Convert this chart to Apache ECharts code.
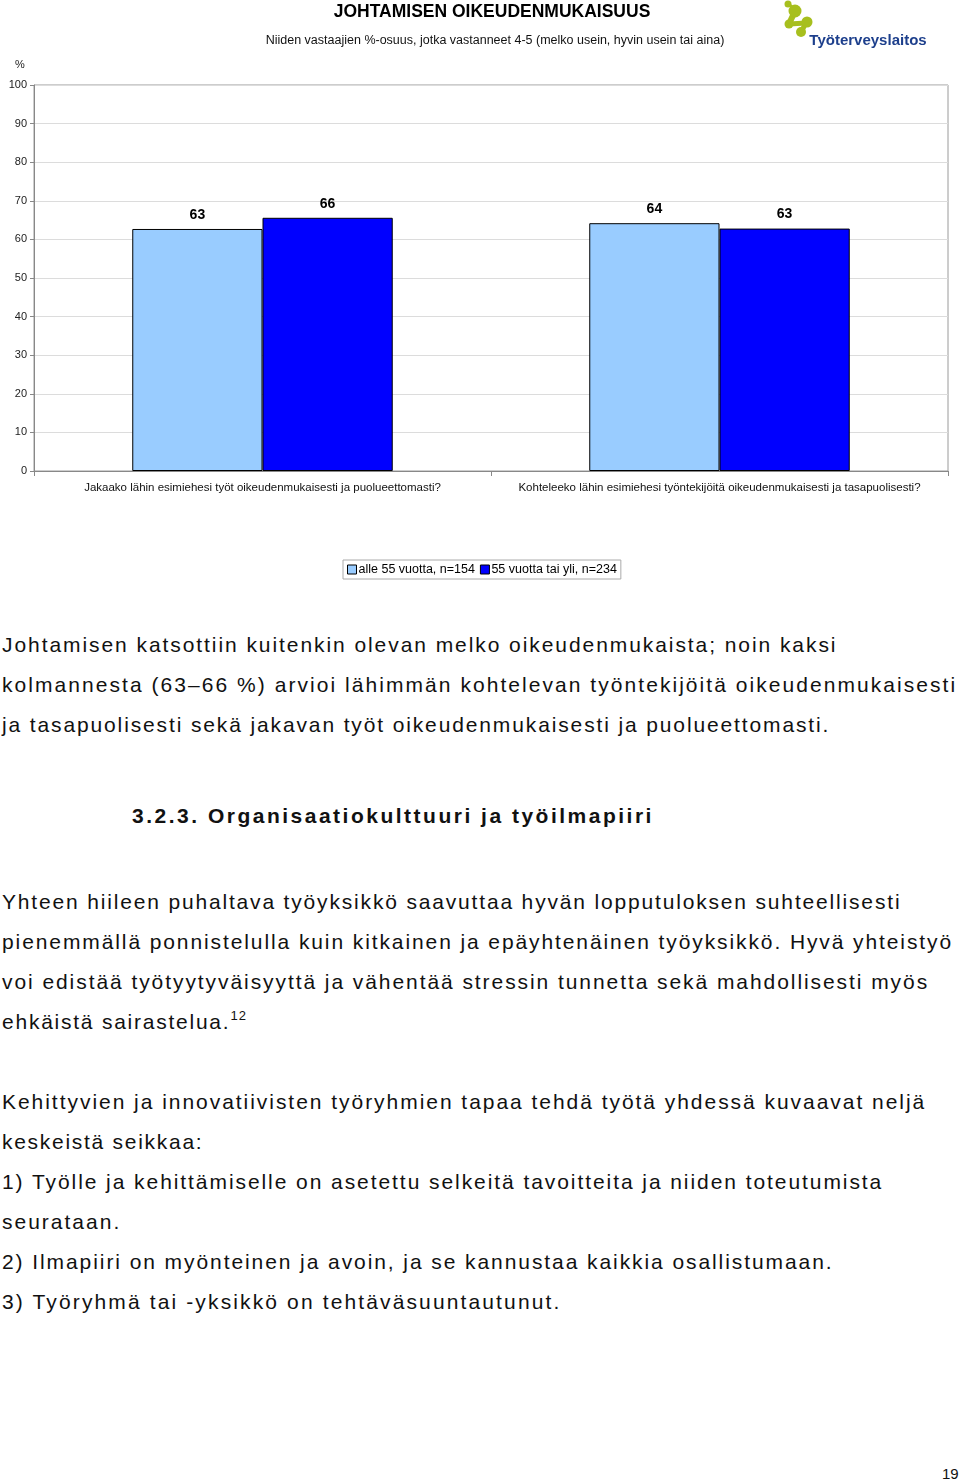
<!DOCTYPE html>
<html>
<head>
<meta charset="utf-8">
<script src="https://cdn.jsdelivr.net/npm/echarts@6/dist/echarts.min.js"></script>
<style>
html,body{margin:0;padding:0;background:#fff;width:960px;height:1481px;overflow:hidden;}
#chart{position:absolute;left:0;top:0;width:960px;height:600px;}
.txt{position:absolute;left:2px;font-family:'Liberation Sans',Arial,sans-serif;font-size:21px;line-height:40px;color:#111;white-space:nowrap;letter-spacing:2px;}
.h{font-weight:bold;left:132px;}
sup{font-size:13px;line-height:0;vertical-align:9px;letter-spacing:1px;}
#pg{position:absolute;left:942px;top:1465px;font-family:'Liberation Sans',Arial,sans-serif;font-size:15px;color:#111;}
</style>
</head>
<body>
<div id="chart"></div>
<div class="txt" style="top:625px;letter-spacing:1.93px">Johtamisen katsottiin kuitenkin olevan melko oikeudenmukaista; noin kaksi</div>
<div class="txt" style="top:665px;letter-spacing:2.05px">kolmannesta (63–66 %) arvioi lähimmän kohtelevan työntekijöitä oikeudenmukaisesti</div>
<div class="txt" style="top:705px;letter-spacing:1.87px">ja tasapuolisesti sekä jakavan työt oikeudenmukaisesti ja puolueettomasti.</div>
<div class="txt h" style="top:796px;letter-spacing:2.5px">3.2.3. Organisaatiokulttuuri ja työilmapiiri</div>
<div class="txt" style="top:882px;letter-spacing:1.83px">Yhteen hiileen puhaltava työyksikkö saavuttaa hyvän lopputuloksen suhteellisesti</div>
<div class="txt" style="top:922px;letter-spacing:1.9px">pienemmällä ponnistelulla kuin kitkainen ja epäyhtenäinen työyksikkö. Hyvä yhteistyö</div>
<div class="txt" style="top:962px;letter-spacing:1.93px">voi edistää työtyytyväisyyttä ja vähentää stressin tunnetta sekä mahdollisesti myös</div>
<div class="txt" style="top:1002px;letter-spacing:1.76px">ehkäistä sairastelua.<sup>12</sup></div>
<div class="txt" style="top:1082px;letter-spacing:1.96px">Kehittyvien ja innovatiivisten työryhmien tapaa tehdä työtä yhdessä kuvaavat neljä</div>
<div class="txt" style="top:1122px;letter-spacing:1.72px">keskeistä seikkaa:</div>
<div class="txt" style="top:1162px;letter-spacing:1.93px">1) Työlle ja kehittämiselle on asetettu selkeitä tavoitteita ja niiden toteutumista</div>
<div class="txt" style="top:1202px;letter-spacing:2px">seurataan.</div>
<div class="txt" style="top:1242px;letter-spacing:1.92px">2) Ilmapiiri on myönteinen ja avoin, ja se kannustaa kaikkia osallistumaan.</div>
<div class="txt" style="top:1282px;letter-spacing:2.13px">3) Työryhmä tai -yksikkö on tehtäväsuuntautunut.</div>
<div id="pg">19</div>
<script>
var categories = ['Jakaako lähin esimiehesi työt oikeudenmukaisesti ja puolueettomasti?',
                  'Kohteleeko lähin esimiehesi työntekijöitä oikeudenmukaisesti ja tasapuolisesti?'];
var seriesNames = ['alle 55 vuotta, n=154', '55 vuotta tai yli, n=234'];
var under55 = [62.7, 64.2];
var over55 = [65.6, 62.8];
var titleText = 'JOHTAMISEN OIKEUDENMUKAISUUS';
var subtitleText = 'Niiden vastaajien %-osuus, jotka vastanneet 4-5 (melko usein, hyvin usein tai aina)';
var logoText = 'Työterveyslaitos';

var chart = echarts.init(document.getElementById('chart'), null, {renderer:'canvas'});
var font = "'Liberation Sans', Arial, sans-serif";
var green = '#a7bf1e';
var labelOpt = {show:true, position:'top', distance:7, fontSize:14, fontWeight:'bold', color:'#000', fontFamily:font,
  formatter:function(p){return Math.round(p.value);}};
chart.setOption({
  animation:false,
  textStyle:{fontFamily:font},
  graphic:[
    {type:'text', x:492, y:12, style:{text:titleText, font:'bold 17.5px '+font, fill:'#000', textAlign:'center', textVerticalAlign:'middle'}},
    {type:'text', x:495, y:41, style:{text:subtitleText, font:'12.5px '+font, fill:'#111', textAlign:'center', textVerticalAlign:'middle'}},
    {type:'text', x:20, y:65, style:{text:'%', font:'11px '+font, fill:'#222', textAlign:'center', textVerticalAlign:'middle'}},
    {type:'line', shape:{x1:795, y1:11, x2:789, y2:24}, style:{stroke:green, lineWidth:6}},
    {type:'line', shape:{x1:789, y1:24, x2:806, y2:23}, style:{stroke:green, lineWidth:5}},
    {type:'line', shape:{x1:806, y1:23, x2:801, y2:32}, style:{stroke:green, lineWidth:5}},
    {type:'line', shape:{x1:795, y1:11, x2:789, y2:4}, style:{stroke:green, lineWidth:3}},
    {type:'circle', shape:{cx:788, cy:4, r:3.5}, style:{fill:green}},
    {type:'circle', shape:{cx:795, cy:11, r:6.5}, style:{fill:green}},
    {type:'circle', shape:{cx:789, cy:24, r:4.5}, style:{fill:green}},
    {type:'circle', shape:{cx:807, cy:22, r:5.5}, style:{fill:green}},
    {type:'circle', shape:{cx:801, cy:32, r:5}, style:{fill:green}},
    {type:'text', x:868, y:41, style:{text:logoText, font:'bold 15px '+font, fill:'#1d3f8c', textAlign:'center', textVerticalAlign:'middle'}}
  ],
  legend:{
    left:343, top:560, orient:'horizontal',
    data:seriesNames,
    borderColor:'#aaa', borderWidth:1, padding:[3,4,3,4],
    itemGap:5, itemWidth:9, itemHeight:9,
    icon:'rect',
    itemStyle:{borderColor:'#000', borderWidth:1},
    textStyle:{fontSize:12.5, color:'#000', fontFamily:font, padding:[0,0,0,-3]}
  },
  grid:{left:34, right:12, top:85, bottom:129, show:true, borderColor:'#9a9a9a', borderWidth:1, backgroundColor:'#fff'},
  xAxis:{
    type:'category', data:categories,
    axisLine:{lineStyle:{color:'#888'}},
    axisTick:{show:true, length:5, lineStyle:{color:'#888'}},
    axisLabel:{fontSize:11.5, color:'#111', margin:11, interval:0}
  },
  yAxis:{
    type:'value', min:0, max:100, interval:10,
    axisLine:{show:true, lineStyle:{color:'#888'}},
    axisTick:{show:true, length:4, lineStyle:{color:'#888'}},
    axisLabel:{fontSize:11, color:'#222', margin:7},
    splitLine:{lineStyle:{color:'#dcdcdc'}}
  },
  series:[
    {name:seriesNames[0], type:'bar', data:under55, barGap:'0%', barCategoryGap:'43%',
     itemStyle:{color:'#99ccff', borderColor:'#000', borderWidth:1}, label:labelOpt},
    {name:seriesNames[1], type:'bar', data:over55, barGap:'0%', barCategoryGap:'43%',
     itemStyle:{color:'#0000ff', borderColor:'#000', borderWidth:1}, label:labelOpt}
  ]
});
</script>
</body>
</html>
